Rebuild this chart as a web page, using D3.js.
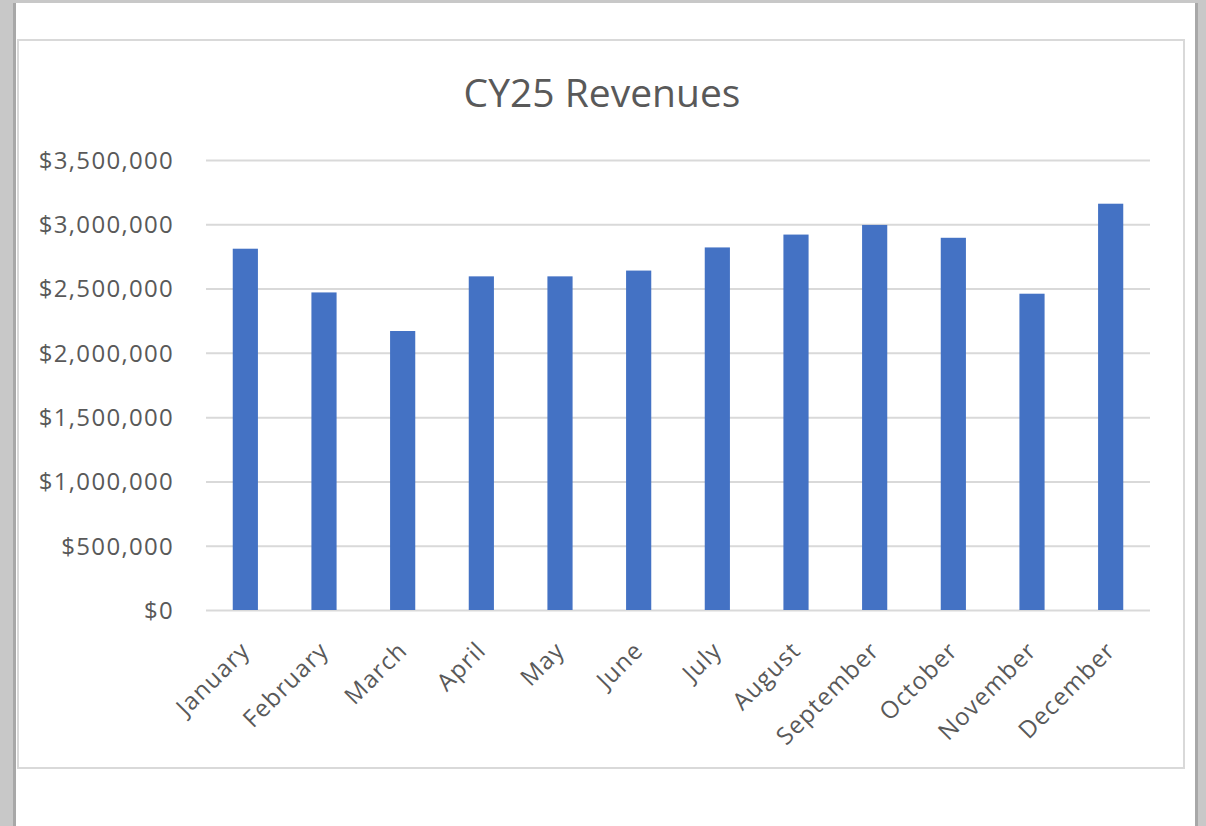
<!DOCTYPE html>
<html>
<head>
<meta charset="utf-8">
<script src="https://cdn.jsdelivr.net/npm/d3@7"></script>
<style>
  body { margin: 0; background: #fff; }
  svg { display: block; }
</style>
</head>
<body>
<svg id="chart" width="1206" height="826"></svg>
<script>
// chart data
var months = ["January", "February", "March", "April", "May", "June",
    "July", "August", "September", "October", "November", "December"];
var revenues = [2810000, 2470000, 2170000, 2595000, 2595000, 2640000,
    2820000, 2920000, 2995000, 2895000, 2460000, 3160000];
var yTicks = [0, 500000, 1000000, 1500000, 2000000, 2500000, 3000000, 3500000];
var chartTitle = "CY25 Revenues";

var svg = d3.select("#chart");
var textColor = "#595959";
var fontFamily = "'Open Sans', 'Noto Sans', sans-serif";

// window chrome round the page
svg.append("rect").attr("x", 0).attr("y", 0).attr("width", 1206).attr("height", 826).attr("fill", "#c8c8c8");
svg.append("rect").attr("x", 16).attr("y", 3).attr("width", 1179).attr("height", 823).attr("fill", "#fff");
svg.append("rect").attr("x", 13).attr("y", 3).attr("width", 3).attr("height", 823).attr("fill", "#a8a8a8");
svg.append("rect").attr("x", 1195).attr("y", 3).attr("width", 3).attr("height", 823).attr("fill", "#a8a8a8");

// chart area border
svg.append("rect")
    .attr("x", 18).attr("y", 40)
    .attr("width", 1166).attr("height", 728)
    .attr("fill", "#fff")
    .attr("stroke", "#d9d9d9")
    .attr("stroke-width", 2);

var plotLeft = 206, plotRight = 1150, plotTop = 160, plotBottom = 610;

var x = d3.scaleBand()
    .domain(months)
    .range([plotLeft, plotRight])
    .paddingInner(0.68)
    .paddingOuter(0.34);

var y = d3.scaleLinear()
    .domain([0, 3500000])
    .range([plotBottom, plotTop]);

// title
svg.append("text")
    .attr("x", 602)
    .attr("y", 107)
    .attr("text-anchor", "middle")
    .attr("font-family", fontFamily)
    .attr("font-size", 39)
    .attr("fill", textColor)
    .text(chartTitle);

// gridlines + y labels
var yAxis = svg.append("g")
    .attr("transform", "translate(" + plotLeft + ",0)")
    .call(d3.axisLeft(y)
        .tickValues(yTicks)
        .tickSize(-(plotRight - plotLeft))
        .tickPadding(32)
        .tickFormat(function (d) { return "$" + d3.format(",")(d); }));
yAxis.select(".domain").remove();
yAxis.selectAll(".tick line")
    .attr("stroke", "#d9d9d9")
    .attr("stroke-width", 2);
yAxis.selectAll(".tick text")
    .attr("font-family", fontFamily)
    .attr("font-size", 24)
    .attr("letter-spacing", 1.3)
    .attr("fill", textColor)
    .attr("dy", "0.35em");

// bars
svg.selectAll(".bar")
    .data(revenues)
    .enter()
    .append("rect")
    .attr("class", "bar")
    .attr("x", function (d, i) { return x(months[i]); })
    .attr("y", function (d) { return y(d); })
    .attr("width", x.bandwidth())
    .attr("height", function (d) { return y(0) - y(d); })
    .attr("fill", "#4472c4");

// category labels, rotated
var xAxis = svg.append("g")
    .attr("transform", "translate(0," + plotBottom + ")")
    .call(d3.axisBottom(x).tickSize(0).tickPadding(0));
xAxis.select(".domain").remove();
xAxis.selectAll(".tick text")
    .attr("font-family", fontFamily)
    .attr("font-size", 24)
    .attr("letter-spacing", 1.1)
    .attr("fill", textColor)
    .attr("text-anchor", "end")
    .attr("dy", null)
    .attr("y", 0)
    .attr("transform", "translate(6,42) rotate(-45)");
</script>
</body>
</html>
